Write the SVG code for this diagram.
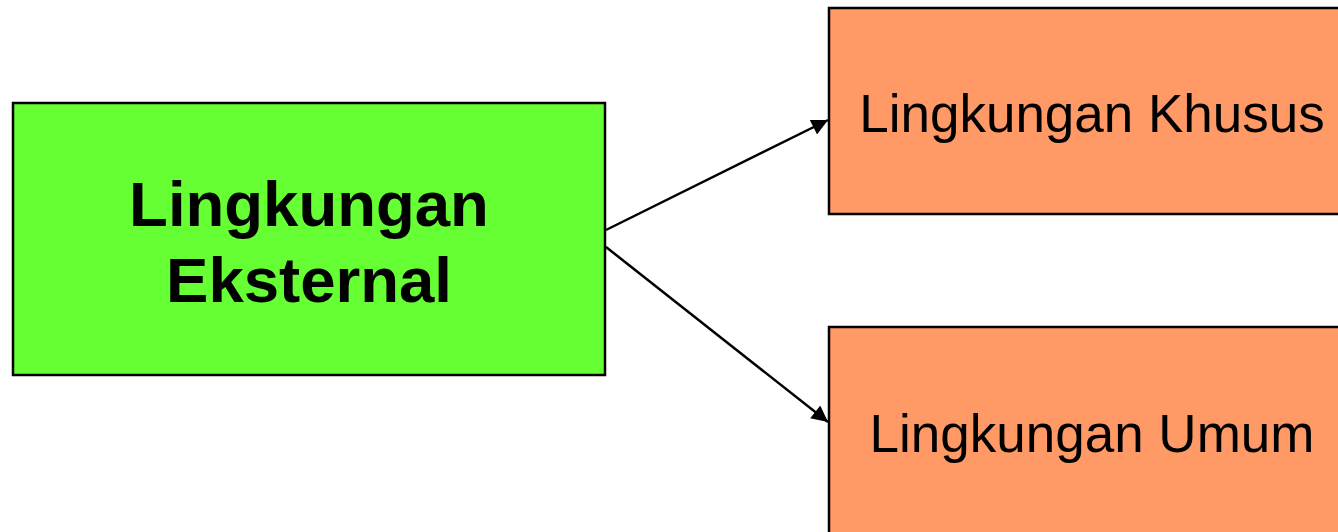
<svg xmlns="http://www.w3.org/2000/svg" width="1338" height="532" viewBox="0 0 1338 532">
<defs>
<style>
.box{stroke:#000;stroke-width:2.5}
.t{font-family:"Liberation Sans",Arial,sans-serif;fill:#000;text-anchor:middle}
.conn{stroke:#000;stroke-width:2.5;fill:none}
</style>
<marker id="ah" viewBox="0 0 10 10" refX="10" refY="5" markerWidth="7" markerHeight="6.5" orient="auto" markerUnits="strokeWidth">
<path d="M0,0 L10,5 L0,10 z" fill="#000"/>
</marker>
</defs>
<rect width="1338" height="532" fill="#fff"/>
<g id="eksternal">
<rect class="box" x="13" y="103" width="592" height="272" fill="#66FF33"/>
<text class="t" x="309" y="226" font-size="63.5" font-weight="bold">Lingkungan</text>
<text class="t" x="309" y="302" font-size="63.5" font-weight="bold">Eksternal</text>
</g>
<g id="khusus">
<rect class="box" x="829" y="8" width="530" height="206" fill="#FF9966"/>
<text class="t" x="1092" y="132" font-size="53">Lingkungan Khusus</text>
</g>
<g id="umum">
<rect class="box" x="829" y="327" width="530" height="230" fill="#FF9966"/>
<text class="t" x="1092" y="452" font-size="53">Lingkungan Umum</text>
</g>
<g id="connectors">
<line class="conn" x1="606" y1="230" x2="828" y2="120" marker-end="url(#ah)"/>
<line class="conn" x1="606" y1="247" x2="828" y2="422" marker-end="url(#ah)"/>
</g>
</svg>
